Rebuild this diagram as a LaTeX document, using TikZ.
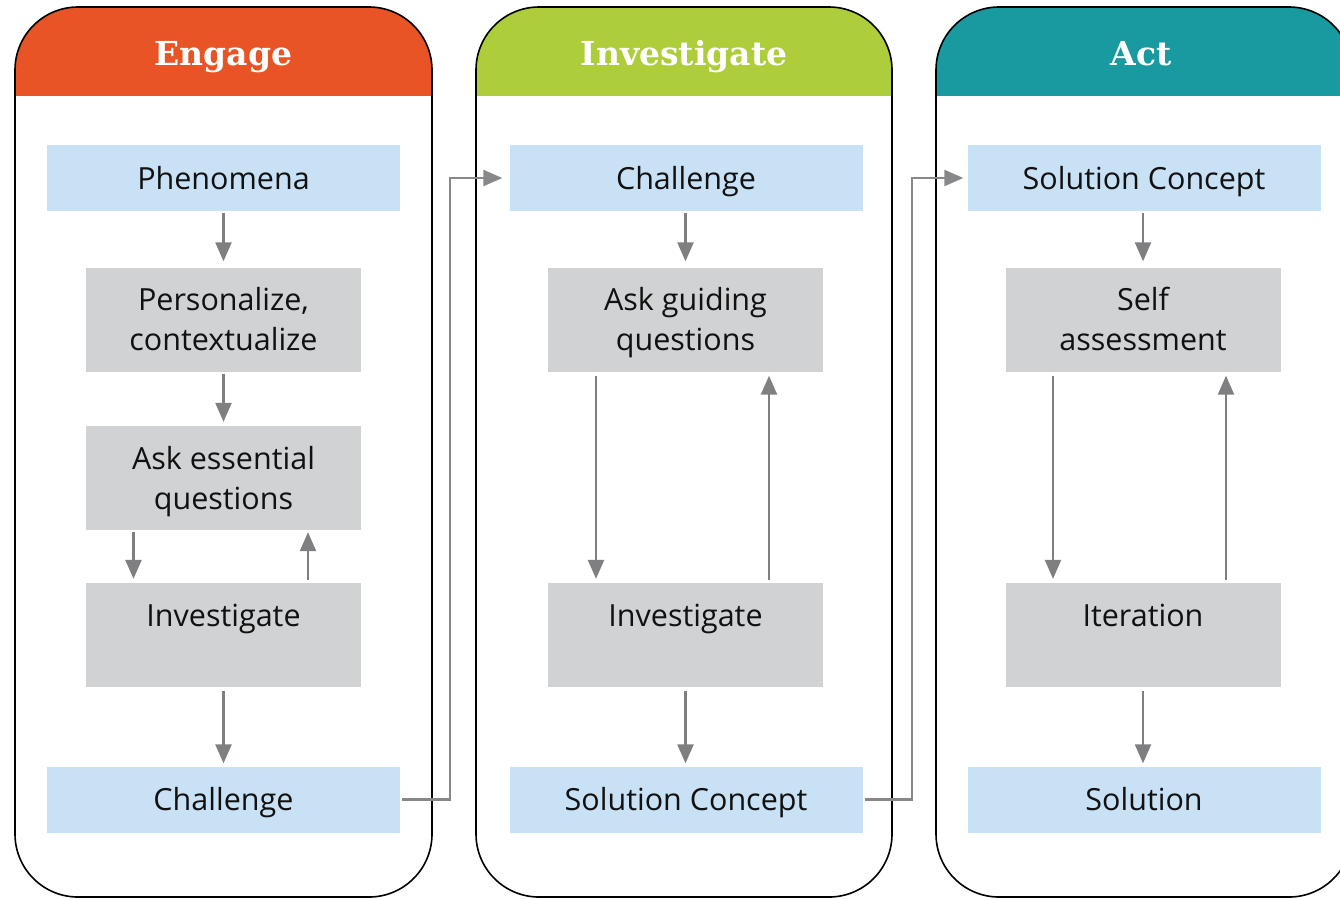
\documentclass[tikz,border=0pt]{standalone}
\usepackage{fontspec}
\setmainfont{Open Sans}
\newfontfamily\titlefont{DejaVu Serif}
\usetikzlibrary{arrows.meta}
\definecolor{cEngage}{HTML}{E85425}
\definecolor{cInvest}{HTML}{ADCD3A}
\definecolor{cAct}{HTML}{189AA0}
\definecolor{lblue}{HTML}{C8E1F5}
\definecolor{lgray}{HTML}{D1D2D4}
\definecolor{arr}{HTML}{7F7F82}
\definecolor{conn}{HTML}{88888A}
\definecolor{ink}{HTML}{111111}
\newcommand\sx{\rule[-8pt]{0pt}{38pt}}
\tikzset{
  bluebox/.style={fill=lblue, minimum width=353pt, minimum height=66pt, inner sep=0pt, text=ink, font=\fontsize{30.5}{40}\selectfont, align=center},
  graybox/.style={fill=lgray, minimum width=275pt, minimum height=104pt, inner sep=0pt, text=ink, font=\fontsize{30.5}{40}\selectfont, align=center},
  title/.style={text=white, font=\titlefont\bfseries\fontsize{33}{38}\selectfont, anchor=base},
  flow/.style={draw=arr, line width=2.4pt, -{Triangle[width=16pt,length=19pt]}},
  link/.style={draw=conn, line width=2.3pt, -{Triangle[width=16pt,length=19pt]}},
  panel/.style={draw=black, line width=1.6pt, rounded corners=63pt}
}
\begin{document}
\begin{tikzpicture}[x=1pt,y=-1pt]
\useasboundingbox (0,0) rectangle (1340,898);
\clip (0,0) rectangle (1340,898);
% panels
\foreach \xl/\xr/\col in {15/432/cEngage, 476/892/cInvest, 936/1352/cAct}{
  \begin{scope}
    \clip[rounded corners=63pt] (\xl,7) rectangle (\xr,897);
    \fill[\col] (\xl,7) rectangle (\xr,96);
  \end{scope}
  \draw[panel] (\xl,7) rectangle (\xr,897);
}
\node[title] (t1) at (223.5,65) {Engage};
\node[title] (t2) at (684,65) {Investigate};
\node[title] (t3) at (1141,65) {Act};
% column 1
\node[bluebox] (a1) at (223.5,178) {\sx Phenomena};
\node[graybox] (a2) at (223.5,319.5) {\sx Personalize,\\\sx contextualize};
\node[graybox] (a3) at (223.5,478) {\sx Ask essential\\\sx questions};
\node[graybox] (a4) at (223.5,635) {\sx Investigate\\\sx};
\node[bluebox] (a5) at (223.5,799.5) {\sx Challenge};
% column 2
\node[bluebox] (b1) at (686,178) {\sx Challenge};
\node[graybox] (b2) at (685.5,319.5) {\sx Ask guiding\\\sx questions};
\node[graybox] (b4) at (685.5,635) {\sx Investigate\\\sx};
\node[bluebox] (b5) at (686,799.5) {\sx Solution Concept};
% column 3
\node[bluebox] (c1) at (1144,178) {\sx Solution Concept};
\node[graybox] (c2) at (1143,319.5) {\sx Self\\\sx assessment};
\node[graybox] (c4) at (1143,635) {\sx Iteration\\\sx};
\node[bluebox] (c5) at (1144,799.5) {\sx Solution};
% arrows column 1
\draw[flow, shorten <=2pt, shorten >=6pt] (a1.south -| a2.north) -- (a2.north);
\draw[flow, shorten <=2pt, shorten >=4pt] (a2) -- (a3);
\draw[flow, shorten <=2pt, shorten >=4pt] ([xshift=-90pt]a3.south) -- ([xshift=-90pt]a4.north);
\draw[flow, shorten <=3pt, shorten >=2pt] ([xshift=84.5pt]a4.north) -- ([xshift=84.5pt]a3.south);
\draw[flow, shorten <=4pt, shorten >=3pt] (a4.south) -- (a5.north -| a4.south);
% arrows column 2
\draw[flow, shorten <=2pt, shorten >=6pt] (b1.south -| b2.north) -- (b2.north);
\draw[flow, shorten <=4pt, shorten >=4pt] ([xshift=-89.5pt]b2.south) -- ([xshift=-89.5pt]b4.north);
\draw[flow, shorten <=3pt, shorten >=4pt] ([xshift=83.5pt]b4.north) -- ([xshift=83.5pt]b2.south);
\draw[flow, shorten <=4pt, shorten >=3pt] (b4.south) -- (b5.north -| b4.south);
% arrows column 3
\draw[flow, shorten <=2pt, shorten >=6pt] (c1.south -| c2.north) -- (c2.north);
\draw[flow, shorten <=4pt, shorten >=4pt] ([xshift=-90pt]c2.south) -- ([xshift=-90pt]c4.north);
\draw[flow, shorten <=3pt, shorten >=4pt] ([xshift=83pt]c4.north) -- ([xshift=83pt]c2.south);
\draw[flow, shorten <=4pt, shorten >=3pt] (c4.south) -- (c5.north -| c4.south);
% links between columns
\coordinate (j1) at (450,0);
\coordinate (j2) at (912,0);
\draw[link, shorten <=2pt, shorten >=7pt] (a5.east) -- (a5.east -| j1) |- (b1.west);
\draw[link, shorten <=2pt, shorten >=4pt] (b5.east) -- (b5.east -| j2) |- (c1.west);
\end{tikzpicture}
\end{document}
